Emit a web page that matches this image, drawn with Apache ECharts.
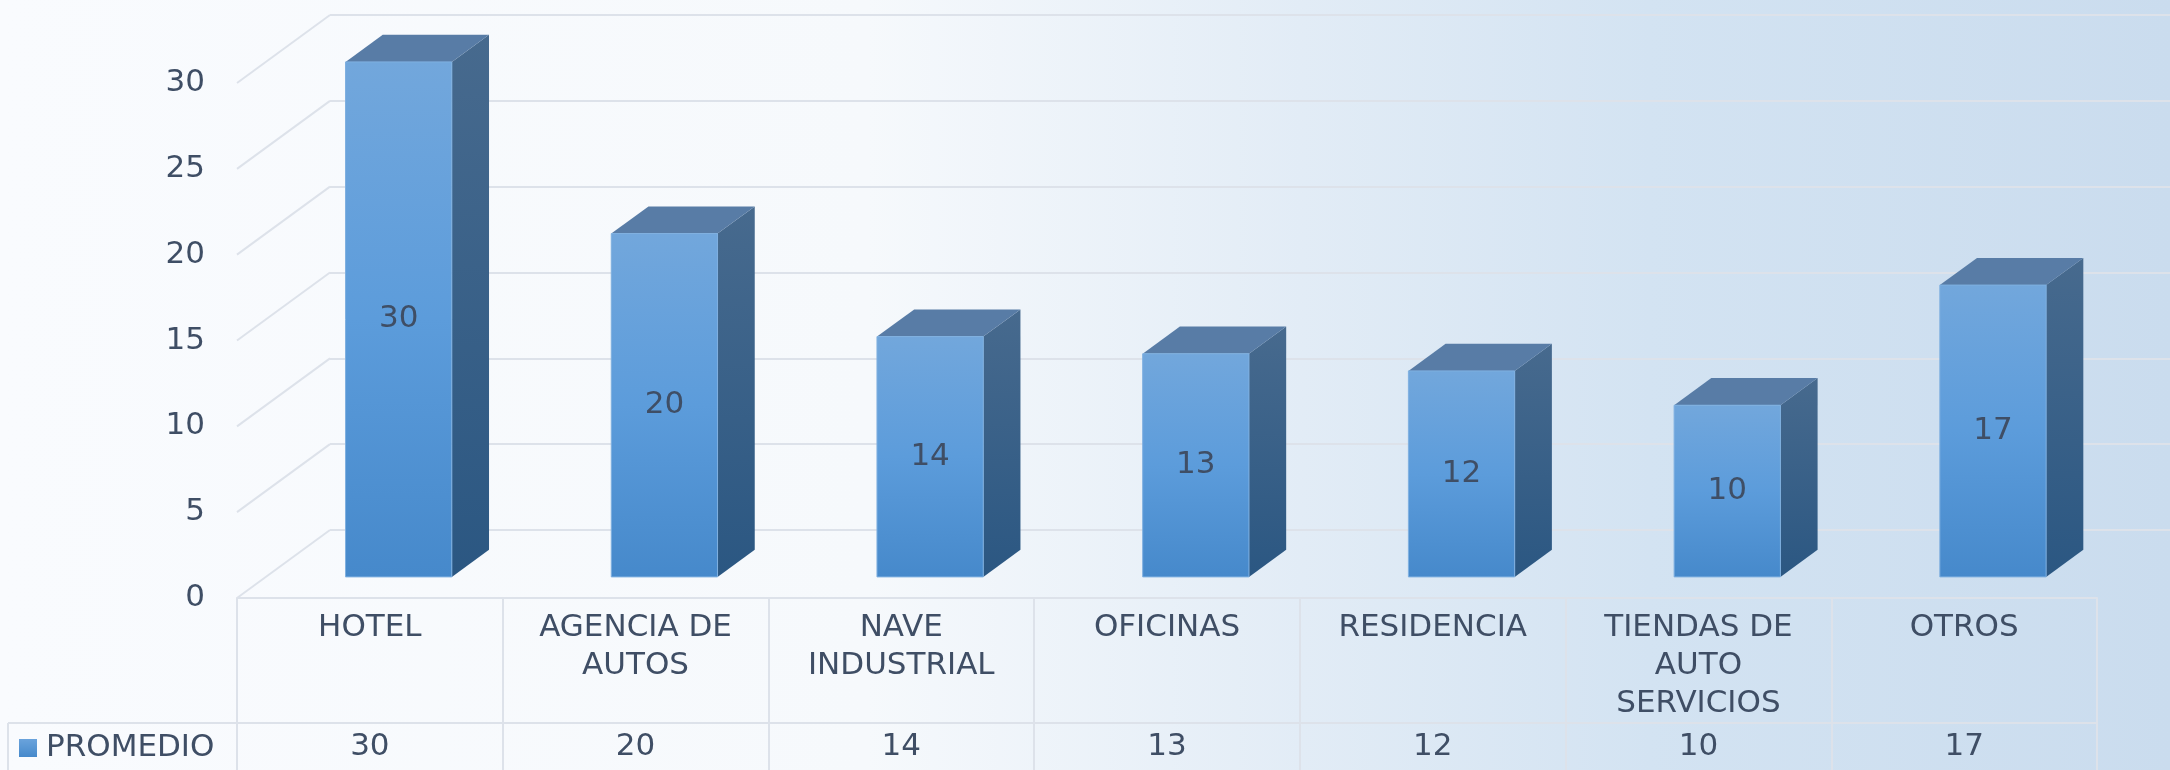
<!DOCTYPE html>
<html style="height: 100%">
<head>
	<meta charset="utf-8">
</head>
<body style="height: 100%; margin: 0">
<div id="container" style="width: 2170px; height: 770px; background: linear-gradient(to right, #f9fbfe 0%, #f6f9fc 40%, #e2ecf6 60%, #d3e3f2 76%, #cadcee 100%);"></div>
<script type="text/javascript" src="https://cdn.jsdelivr.net/npm/echarts@6/dist/echarts.min.js"></script>
<script type="text/javascript">
    var categories = ['HOTEL', 'AGENCIA DE\nAUTOS', 'NAVE\nINDUSTRIAL', 'OFICINAS', 'RESIDENCIA', 'TIENDAS DE\nAUTO\nSERVICIOS', 'OTROS'];
    var promedio = [30, 20, 14, 13, 12, 10, 17];
    var yTicks = [0, 5, 10, 15, 20, 25, 30];

    // layout of the fake 3d box
    var PLOT_LEFT = 237, PLOT_TOP = 83, PLOT_W = 1860, PLOT_H = 515;
    var DEPTH_X = 93, DEPTH_Y = -68;
    var D0 = 0.31, D1 = 0.71, BAR_RATIO = 0.40;
    var TEXT = '#3f4e65';
    var LINE = '#dde2ea';
    var FONT = 'DejaVu Sans';
    var FS = 31;

    var dom = document.getElementById("container");
    var myChart = echarts.init(dom, null, {renderer: 'canvas'});

    function renderBar(params, api) {
        var i = api.value(0), v = api.value(1);
        var top = api.coord([i, v]);
        var base = api.coord([i, 0]);
        var w = api.size([1, 0])[0] * BAR_RATIO;
        var xl = top[0] - w / 2, xr = top[0] + w / 2;
        var ax = DEPTH_X * D0, ay = DEPTH_Y * D0, bx = DEPTH_X * D1, by = DEPTH_Y * D1;
        return {
            type: 'group',
            children: [{
                type: 'polygon',
                shape: {points: [[xr + ax, top[1] + ay], [xr + bx, top[1] + by], [xr + bx, base[1] + by], [xr + ax, base[1] + ay]]},
                style: {fill: {type: 'linear', x: 0, y: 0, x2: 0, y2: 1, colorStops: [{offset: 0, color: '#476a8e'}, {offset: 1, color: '#2b5782'}]}}
            }, {
                type: 'polygon',
                shape: {points: [[xl + ax, top[1] + ay], [xr + ax, top[1] + ay], [xr + bx, top[1] + by], [xl + bx, top[1] + by]]},
                style: {fill: '#587ca6'}
            }, {
                type: 'rect',
                shape: {x: xl + ax, y: top[1] + ay, width: w, height: base[1] - top[1]},
                style: {
                    fill: {type: 'linear', x: 0, y: 0, x2: 0, y2: 1, colorStops: [{offset: 0, color: '#72a7dc'}, {offset: 0.5, color: '#5c9cdb'}, {offset: 1, color: '#4689cb'}]},
                    stroke: '#7fb0e0', lineWidth: 1
                }
            }, {
                type: 'text',
                style: {
                    text: String(v),
                    x: top[0] + ax, y: (top[1] + base[1]) / 2 + ay,
                    align: 'center', verticalAlign: 'middle',
                    fill: TEXT, font: FS + 'px "' + FONT + '"'
                }
            }]
        };
    }

    function renderWall(params, api) {
        var p = api.coord([0, api.value(1)]);
        var x0 = params.coordSys.x;
        return {
            type: 'line',
            shape: {x1: x0, y1: p[1], x2: x0 + DEPTH_X, y2: p[1] + DEPTH_Y},
            style: {stroke: LINE, lineWidth: 2}
        };
    }

    var option = {
        animation: false,
        textStyle: {fontFamily: FONT},
        legend: {
            data: ['PROMEDIO'],
            left: 19, top: 729, padding: 0,
            icon: 'rect', itemWidth: 18, itemHeight: 18,
            textStyle: {color: TEXT, fontSize: FS, lineHeight: 38, padding: [0, 0, 0, 4]}
        },
        grid: [
            {left: PLOT_LEFT, top: PLOT_TOP, width: PLOT_W, height: PLOT_H},
            {left: PLOT_LEFT + DEPTH_X, top: PLOT_TOP + DEPTH_Y, width: PLOT_W, height: PLOT_H}
        ],
        xAxis: [{
            gridIndex: 0,
            type: 'category',
            data: categories,
            axisLine: {lineStyle: {color: LINE, width: 2}},
            axisTick: {show: true, length: 125, alignWithLabel: false, lineStyle: {color: LINE, width: 2}},
            axisLabel: {interval: 0, margin: 11, color: TEXT, fontSize: FS, lineHeight: 38, verticalAlign: 'top'}
        }, {
            gridIndex: 0,
            type: 'category',
            position: 'bottom',
            offset: 125,
            data: promedio.map(String),
            axisLine: {lineStyle: {color: LINE, width: 2}},
            axisTick: {show: true, length: 60, alignWithLabel: false, lineStyle: {color: LINE, width: 2}},
            axisLabel: {interval: 0, margin: 5, color: TEXT, fontSize: FS, lineHeight: 38, verticalAlign: 'top'}
        }, {
            gridIndex: 1,
            type: 'category',
            data: categories,
            show: false
        }],
        yAxis: [{
            gridIndex: 0,
            type: 'value',
            min: 0, max: 30, interval: 5,
            axisLine: {show: false},
            axisTick: {show: false},
            splitLine: {show: false},
            axisLabel: {margin: 32, color: TEXT, fontSize: FS}
        }, {
            gridIndex: 1,
            type: 'value',
            min: 0, max: 30, interval: 5,
            axisLine: {show: false},
            axisTick: {show: false},
            axisLabel: {show: false},
            splitLine: {show: true, lineStyle: {color: LINE, width: 2}}
        }],
        graphic: [{
            type: 'line',
            shape: {x1: 8, y1: 723, x2: PLOT_LEFT, y2: 723},
            style: {stroke: LINE, lineWidth: 2}
        }, {
            type: 'line',
            shape: {x1: 8, y1: 723, x2: 8, y2: 780},
            style: {stroke: LINE, lineWidth: 2}
        }],
        series: [{
            name: 'walls',
            type: 'custom',
            xAxisIndex: 0, yAxisIndex: 0,
            silent: true,
            z: 1,
            renderItem: renderWall,
            data: yTicks.map(function (t) { return [0, t]; })
        }, {
            name: 'PROMEDIO',
            type: 'custom',
            xAxisIndex: 0, yAxisIndex: 0,
            z: 3,
            itemStyle: {color: {type: 'linear', x: 0, y: 0, x2: 0, y2: 1, colorStops: [{offset: 0, color: '#6aa3dc'}, {offset: 1, color: '#4689cb'}]}},
            renderItem: renderBar,
            data: promedio.map(function (v, i) { return [i, v]; })
        }]
    };

    myChart.setOption(option);
</script>
</body>
</html>
